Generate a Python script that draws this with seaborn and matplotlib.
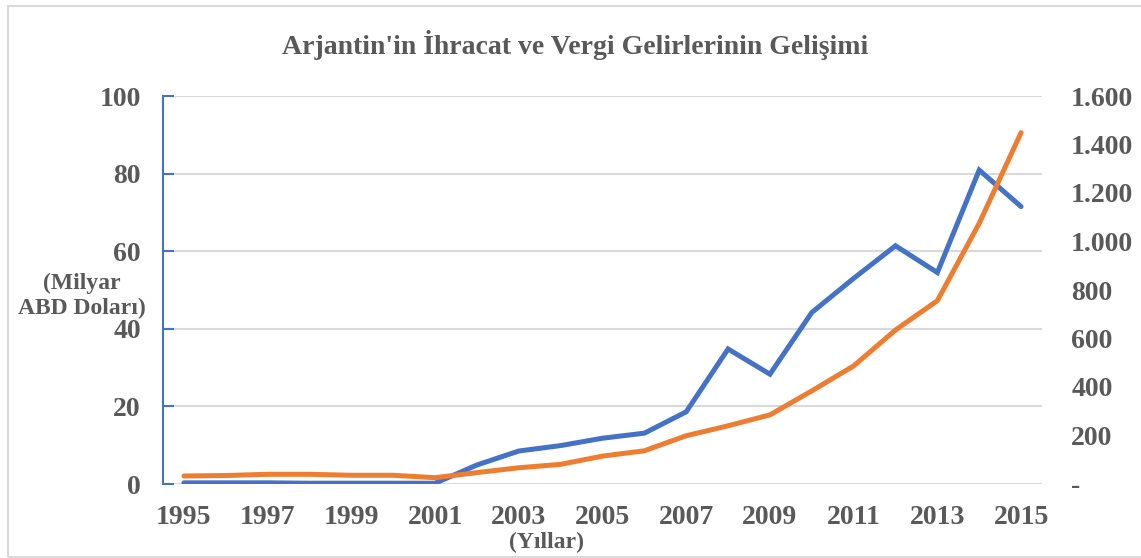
import numpy as np
import pandas as pd
import matplotlib.pyplot as plt
import matplotlib.ticker as mticker
from matplotlib.patches import Rectangle
import seaborn as sns

years = list(range(1995, 2016))
# blue series, left axis (milyar ABD dolari)
blue_vals = [0.3, 0.3, 0.3, 0.2, 0.2, 0.2, 0.2, 4.9, 8.5, 9.9, 11.8, 13.1,
             18.6, 34.8, 28.3, 44.2, 53.0, 61.4, 54.5, 80.9, 71.5]
# orange series, right axis
orange_vals = [33, 35, 40, 40, 36, 36, 26, 47, 67, 81, 115, 137,
               199, 240, 285, 384, 487, 635, 756, 1075, 1449]

title = "Arjantin'in İhracat ve Vergi Gelirlerinin Gelişimi"
left_ticks = [0, 20, 40, 60, 80, 100]
right_ticks = [0, 200, 400, 600, 800, 1000, 1200, 1400, 1600]
x_ticks = years[::2]

sns.set_style('white')
plt.rcParams['font.family'] = ['Liberation Serif', 'DejaVu Serif']
gray = '#595959'
blue = '#4472C4'
orange = '#ED7D31'

df = pd.DataFrame({'year': years, 'blue': blue_vals, 'orange': orange_vals})

fig = plt.figure(figsize=(11.41, 5.58), dpi=100)
ax = fig.add_axes([163 / 1141, 1 - 484 / 558, (1042 - 163) / 1141, (484 - 96) / 558])
ax2 = ax.twinx()

sns.lineplot(data=df, x='year', y='blue', ax=ax, color=blue, linewidth=3.6,
             solid_capstyle='round', solid_joinstyle='miter', zorder=3)
sns.lineplot(data=df, x='year', y='orange', ax=ax2, color=orange, linewidth=3.6,
             solid_capstyle='round', solid_joinstyle='miter', zorder=3)

ax.set_xlim(1994.5, 2015.5)
ax.set_ylim(0, 100)
ax2.set_ylim(0, 1600)
ax.set_yticks(left_ticks)
ax2.set_yticks(right_ticks)
ax.set_xticks(x_ticks)
ax.set_xticklabels([str(y) for y in x_ticks])

ax.grid(axis='y', color='#d9d9d9', linewidth=1.5)
ax.set_axisbelow(True)
ax2.grid(False)

for a in (ax, ax2):
    for s in a.spines.values():
        s.set_visible(False)
ax.spines['left'].set_visible(True)
ax.spines['left'].set_color(blue)
ax.spines['left'].set_linewidth(1.5)

ax.tick_params(axis='y', direction='in', length=8, width=1.5, color=blue,
               labelsize=20, labelcolor=gray, pad=16)
ax.tick_params(axis='x', length=0, labelsize=20, labelcolor=gray, pad=15)
ax2.tick_params(axis='y', length=0, labelsize=20, labelcolor=gray, pad=21)

fmt = mticker.FuncFormatter(lambda v, p: '-' if v == 0 else f'{int(v):,}'.replace(',', '.'))
ax2.yaxis.set_major_formatter(fmt)

for lab in ax.get_xticklabels() + ax.get_yticklabels() + ax2.get_yticklabels():
    lab.set_fontweight('bold')

ax.set_xlabel('')
ax.set_ylabel('')
ax2.set_ylabel('')

fig.text(0.5 * (280 + 870) / 1141, 1 - 45 / 558, title, ha='center', va='center',
         fontsize=20, fontweight='bold', color=gray)
fig.text(82 / 1141, 1 - 296 / 558, '(Milyar\nABD Doları)', ha='center', va='center',
         fontsize=17, fontweight='bold', color=gray, linespacing=1.2)
fig.text(546 / 1141, 1 - 542 / 558, '(Yıllar)', ha='center', va='center',
         fontsize=17, fontweight='bold', color=gray)

fig.patches.append(Rectangle((8 / 1141, 1 / 558), 1.2, 1 - 7 / 558,
                             transform=fig.transFigure, fill=False,
                             edgecolor='#d9d9d9', linewidth=1.5))

fig.savefig('out.png', dpi=100)
